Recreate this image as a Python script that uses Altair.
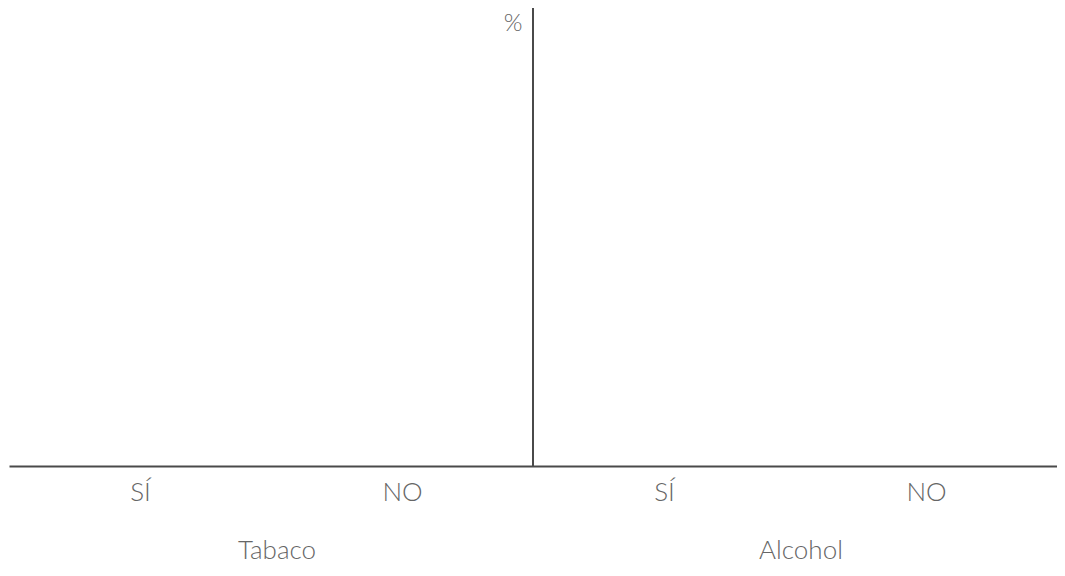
import json
import altair as alt
import pandas as pd

groups = ["Tabaco", "Alcohol"]
answers = ["SÍ", "NO"]
percent = [None, None, None, None]  # chart is empty: no values drawn
y_label = "%"

rows = []
for gi, g in enumerate(groups):
    for ai, a in enumerate(answers):
        idx = gi * len(answers) + ai
        rows.append({"group": g, "answer": a, "pos": idx + 0.5, "value": percent[idx]})
df = pd.DataFrame(rows)
n = len(rows)
tick_labels = [r["answer"] for r in rows]

W, H = 1048, 458
FONT = "Lato"
TXT = "#666666"
LINE = "#4a4a4a"

xscale = alt.Scale(domain=[0, n], nice=False, zero=False)
yscale = alt.Scale(domain=[0, 100])

base = alt.Chart(df)

axis_layer = base.mark_point(opacity=0).encode(
    x=alt.X("pos:Q", scale=xscale,
            axis=alt.Axis(values=[r["pos"] for r in rows],
                          labelExpr=json.dumps(tick_labels) + "[floor(datum.value)]",
                          title=None, ticks=False, grid=False,
                          domainColor=LINE, domainWidth=2,
                          labelFont=FONT, labelFontSize=26, labelFontWeight=300,
                          labelColor=TXT, labelPadding=13)),
    y=alt.Y("value:Q", scale=yscale, axis=None),
)

divider = pd.DataFrame({"pos": [float(len(answers))], "y0": [0], "y1": [100], "lab": [y_label]})
rule = alt.Chart(divider).mark_rule(color=LINE, strokeWidth=2).encode(
    x=alt.X("pos:Q", scale=xscale),
    y=alt.Y("y0:Q", scale=yscale),
    y2="y1:Q",
)
pct = alt.Chart(divider).mark_text(
    font=FONT, fontSize=24, fontWeight=300, color=TXT, dx=-20, baseline="top", dy=4
).encode(
    x=alt.X("pos:Q", scale=xscale),
    y=alt.Y("y1:Q", scale=yscale),
    text="lab:N",
)

gdf = pd.DataFrame({"group": groups, "center": [(i + 0.5) * len(answers) for i in range(len(groups))]})
glabels = alt.Chart(gdf).mark_text(
    font=FONT, fontSize=26, fontWeight=300, color=TXT, baseline="middle", dx=6
).encode(
    x=alt.X("center:Q", scale=xscale),
    y=alt.value(H + 85),
    text="group:N",
)

chart = alt.layer(axis_layer, rule, pct, glabels).properties(
    width=W, height=H,
    padding={"left": 1, "top": 0, "right": 0, "bottom": 100},
    autosize=alt.AutoSizeParams(type="none"),
).configure(background="white").configure_view(stroke=None, strokeWidth=0)

chart.save("out.html", embed_options={"renderer": "svg", "actions": False})
